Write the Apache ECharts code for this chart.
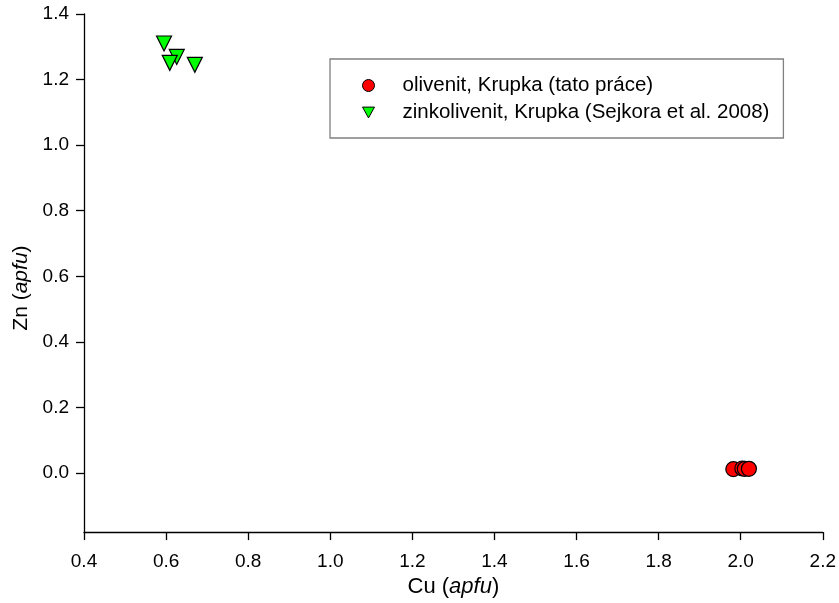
<!DOCTYPE html>
<html>
<head>
<meta charset="utf-8">
<script src="https://cdn.jsdelivr.net/npm/echarts@6/dist/echarts.min.js"></script>
<style>
html,body{margin:0;padding:0;background:#fff;}
#chart{width:839px;height:603px;}
</style>
</head>
<body>
<div id="chart"></div>
<script>
// Data
var olivenitCu = [1.982, 2.004, 2.010, 2.020];
var olivenitZn = [0.012, 0.014, 0.013, 0.013];
var zinkoCu = [0.595, 0.626, 0.609, 0.670];
var zinkoZn = [1.310, 1.269, 1.251, 1.245];
var seriesNames = ['olivenit, Krupka (tato práce)', 'zinkolivenit, Krupka (Sejkora et al. 2008)'];
var xTicks = [0.4, 0.6, 0.8, 1.0, 1.2, 1.4, 1.6, 1.8, 2.0, 2.2];
var yTicks = [0.0, 0.2, 0.4, 0.6, 0.8, 1.0, 1.2, 1.4];

function pairs(xs, ys){ return xs.map(function(x,i){ return [x, ys[i]]; }); }

var FONT = '"Liberation Sans", Arial, sans-serif';
var DOWN_TRI = 'path://M0,0 L10,0 L5,9 Z';
var chart = echarts.init(document.getElementById('chart'), null, {renderer:'canvas'});
chart.setOption({
  animation: false,
  backgroundColor: '#fff',
  textStyle: {fontFamily: FONT},
  grid: {left: 84, right: 15, top: 14, bottom: 70, containLabel: false},
  xAxis: {
    type: 'value', min: 0.4, max: 2.2, interval: 0.2,
    axisLine: {show: true, onZero: false, lineStyle: {color: '#000', width: 1.3}},
    axisTick: {show: true, length: 8, inside: false, lineStyle: {color: '#000', width: 1.3}},
    axisLabel: {margin: 20, fontSize: 19, color: '#000', fontFamily: FONT,
      formatter: function(v){ return v.toFixed(1); }},
    splitLine: {show: false},
    name: '{n|Cu (}{i|apfu}{n|)}',
    nameLocation: 'middle', nameGap: 36,
    nameTextStyle: {rich: {n: {fontSize: 22, color: '#000', fontFamily: FONT}, i: {fontSize: 22, color: '#000', fontStyle: 'italic', fontFamily: FONT}}}
  },
  yAxis: {
    type: 'value', min: -0.18, max: 1.4,
    axisLine: {show: true, onZero: false, lineStyle: {color: '#000', width: 1.3}},
    axisTick: {show: true, length: 8, inside: false, customValues: yTicks, lineStyle: {color: '#000', width: 1.3}},
    axisLabel: {margin: 15, fontSize: 19, color: '#000', fontFamily: FONT, customValues: yTicks,
      formatter: function(v){ return v.toFixed(1); }},
    splitLine: {show: false},
    name: '{n|Zn (}{i|apfu}{n|)}',
    nameLocation: 'middle', nameGap: 42,
    nameTextStyle: {padding: [0, 30, 0, 0], rich: {n: {fontSize: 21, color: '#000', fontFamily: FONT}, i: {fontSize: 21, color: '#000', fontStyle: 'italic', fontFamily: FONT}}}
  },
  legend: {
    show: true, orient: 'vertical', left: 330, top: 59,
    padding: [16, 14, 15, 32],
    borderColor: '#808080', borderWidth: 1.3,
    itemWidth: 12, itemHeight: 12, itemGap: 6,
    textStyle: {fontSize: 20.5, color: '#000', fontFamily: FONT, padding: [0, 0, 0, 23]},
    data: [
      {name: seriesNames[0], icon: 'circle', itemStyle: {color: '#ff0000', borderColor: '#000', borderWidth: 1}},
      {name: seriesNames[1], icon: DOWN_TRI, itemStyle: {color: '#00ff00', borderColor: '#000', borderWidth: 1}}
    ]
  },
  series: [
    {
      name: seriesNames[0], type: 'scatter', symbol: 'circle', symbolSize: 15,
      itemStyle: {color: '#ff0000', borderColor: '#000', borderWidth: 1.2, opacity: 1},
      data: pairs(olivenitCu, olivenitZn)
    },
    {
      name: seriesNames[1], type: 'scatter', symbol: 'triangle', symbolSize: 15, symbolRotate: 180,
      itemStyle: {color: '#00ff00', borderColor: '#000', borderWidth: 1.2, opacity: 1},
      data: pairs(zinkoCu, zinkoZn)
    }
  ]
});
</script>
</body>
</html>
